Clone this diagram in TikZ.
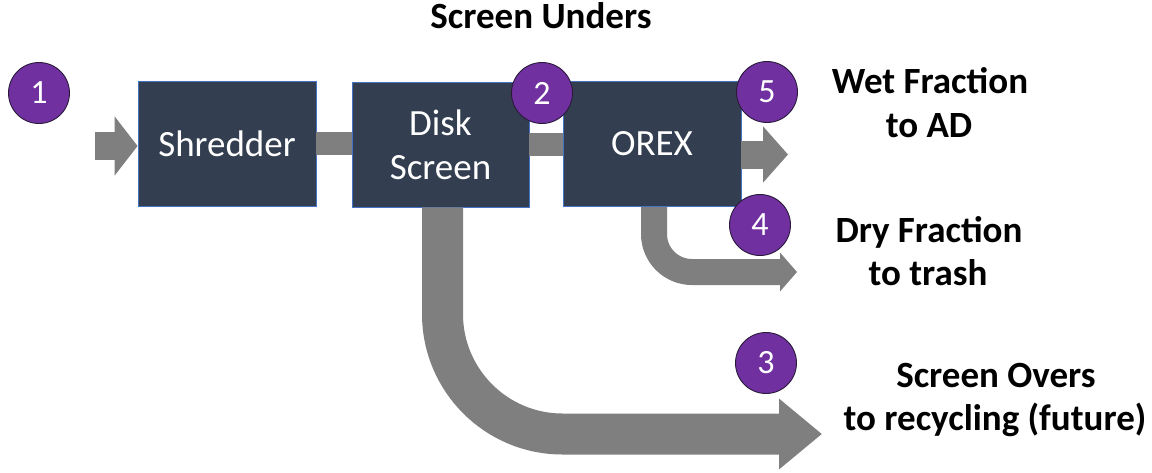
\documentclass[tikz,border=0pt]{standalone}
\usepackage{fontspec}
\setmainfont{Carlito}
\usetikzlibrary{arrows.meta}
\definecolor{boxfill}{HTML}{333F50}
\definecolor{boxline}{HTML}{4472C4}
\definecolor{badge}{HTML}{7030A0}
\definecolor{badgeline}{HTML}{2A1A3A}
\definecolor{flowgray}{HTML}{7F7F7F}
\begin{document}
\begin{tikzpicture}[x=1pt,y=-1pt,
  proc/.style={draw=boxline, line width=0.8pt, fill=boxfill, text=white,
    font=\fontsize{37}{44}\selectfont, align=center, inner sep=0pt,
    minimum width=178pt, minimum height=125pt},
  badgecirc/.style={circle, draw=badgeline, line width=0.9pt, fill=badge, text=white,
    minimum size=61pt, inner sep=0pt, font=\fontsize{34}{40}\selectfont},
  lbl/.style={font=\bfseries\fontsize{37}{42}\selectfont, anchor=base, inner sep=0pt},
  flow/.style={draw=flowgray, line cap=butt},
]
\useasboundingbox (0,0) rectangle (1152,472);

% process boxes
\node[proc] (shred) at (227,143.5) {Shredder};
\node[proc, minimum width=177pt] (disk) at (440.5,144.5) {Disk\\Screen};
\node[proc] (orex) at (652,144) {OREX};

% free ends of connectors
\coordinate (in) at (95,146);
\coordinate (wetend) at (788,154.5);
\coordinate (dryend) at (797,272);
\coordinate (bigend) at (822,434);

% connectors
\draw[flow, line width=28pt, -{Triangle[length=23pt,width=58pt]}] (in) -- (in -| shred.west);
\draw[flow, line width=23pt] (shred.east) -- (shred.east -| disk.west);
\draw[flow, line width=23pt] (disk.east) -- (disk.east -| orex.west);
\draw[flow, line width=28pt, -{Triangle[length=25pt,width=55pt]}] (orex.east |- wetend) -- (wetend);
\draw[flow, line width=26pt, rounded corners=38pt, -{Triangle[length=17pt,width=38pt]}]
  ([xshift=2pt]orex.south) -- ([xshift=2pt]orex.south |- dryend) -- (dryend);
\draw[flow, line width=41pt, rounded corners=120pt, -{Triangle[length=43pt,width=68pt]}]
  ([xshift=2pt]disk.south) -- ([xshift=2pt]disk.south |- bigend) -- (bigend);

% badges
\node[badgecirc] (b1) at (39,93) {1};
\node[badgecirc] (b2) at (542,93) {2};
\node[badgecirc] (b5) at (767,92) {5};
\node[badgecirc] (b4) at (760,225) {4};
\node[badgecirc] (b3) at (766,363) {3};

% labels
\node[lbl] (su) at (541,28) {Screen Unders};
\node[lbl] (wf1) at (930,93) {Wet Fraction};
\node[lbl] (wf2) at (929,137) {to AD};
\node[lbl] (df1) at (929,242) {Dry Fraction};
\node[lbl] (df2) at (928,285) {to trash};
\node[lbl] (so1) at (996,387) {Screen Overs};
\node[lbl] (so2) at (995,430) {to recycling (future)};
\end{tikzpicture}
\end{document}
